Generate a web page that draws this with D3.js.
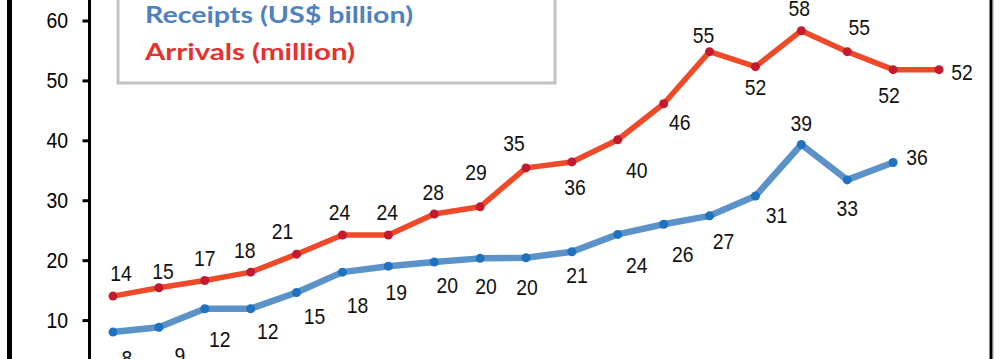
<!DOCTYPE html>
<html><head><meta charset="utf-8">
<script src="https://cdn.jsdelivr.net/npm/d3@7"></script>
<style>
html,body{margin:0;padding:0;background:#fff;overflow:hidden;}
svg{display:block;}
</style></head>
<body>
<svg id="chart" width="1000" height="359"></svg>
<script>
// ---- data (category labels are cropped out of view) ----
const years = ["1998","1999","2000","2001","2002","2003","2004","2005","2006","2007","2008","2009","2010","2011","2012","2013","2014","2015","2016"];
const arrivals = [14.0,15.4,16.6,18.0,21.0,24.2,24.2,27.7,28.9,35.4,36.4,40.1,46.1,54.8,52.3,58.3,54.8,51.8,51.8];
const receipts = [8.0,8.8,11.9,11.9,14.6,18.0,19.0,19.7,20.3,20.4,21.4,24.3,26.0,27.4,30.7,39.3,33.4,36.3];
const yTicks = [10,20,30,40,50,60];
const legendLabels = ["Receipts (US$ billion)","Arrivals (million)"];

// label placements (dx, dy from each point)
const arrivalsLabelOffset = [[8,-23],[4,-17],[0,-23],[-6,-22],[-14,-23],[-3,-23],[-1,-23],[-1,-22],[-4,-35],[-12,-25],[3,25],[19,30],[16,18],[-6,-17],[0,20],[-2,-23],[12,-25],[-4,25],[23,2]];
const receiptsLabelOffset = [[14,26],[21,28],[15,30],[17,22],[18,24],[15,33],[8,26],[13,23],[6,28],[1,29],[5,23],[19,31],[19,30],[14,25],[21,19],[0,-21],[0,28],[24,-5]];

const svg = d3.select("#chart");
const x = d3.scalePoint().domain(years).range([113, 939]);
const y = d3.scaleLinear().domain([0, 60]).range([380, 20.5]);

const numFont = "'Liberation Sans',Arial,sans-serif";
const squeeze = 0.88;

// frame
svg.append("line").attr("x1",9.5).attr("x2",9.5).attr("y1",-5).attr("y2",365).attr("stroke","#000").attr("stroke-width",5);
svg.append("line").attr("x1",991).attr("x2",991).attr("y1",-5).attr("y2",365).attr("stroke","#000").attr("stroke-width",3);
svg.append("line").attr("x1",993.5).attr("x2",993.5).attr("y1",-5).attr("y2",365).attr("stroke","#ccc").attr("stroke-width",1);

// y axis
const axis = svg.append("g").attr("transform","translate(89.5,0)")
  .call(d3.axisLeft(y).tickValues(yTicks).tickSize(7).tickSizeOuter(0).tickPadding(14));
axis.select(".domain").remove();
axis.selectAll(".tick line").attr("stroke","#000").attr("stroke-width",3);
axis.selectAll(".tick text").attr("fill","#000").style("font-family",numFont).style("font-size","22px")
  .attr("x",0).attr("transform",`translate(-21.5,0) scale(${squeeze},1)`);
axis.append("line").attr("x1",0).attr("x2",0).attr("y1",-5).attr("y2",400).attr("stroke","#000").attr("stroke-width",3);

// legend
const lg = svg.append("g");
lg.append("rect").attr("x",118).attr("y",-20).attr("width",437).attr("height",103)
  .attr("fill","#fff").attr("stroke","#bfc3c3").attr("stroke-width",3);
const legendColors = ["#4f81bd","#e8302e"];
lg.selectAll("text.leg").data(legendLabels).join("text").attr("class","leg")
  .attr("x",145).attr("y",(d,i)=> i===0 ? 23 : 60)
  .attr("fill",(d,i)=>legendColors[i])
  .attr("textLength",(d,i)=> i===0 ? 268 : 210).attr("lengthAdjust","spacingAndGlyphs")
  .style("font-family","Lato,'Open Sans',sans-serif").style("font-weight","bold").style("font-size","23px")
  .text(d=>d);

function series(values, lineColor, dotColor, width, offsets){
  const g = svg.append("g");
  const line = d3.line().x((d,i)=>x(years[i])).y(d=>y(d));
  g.append("path").datum(values).attr("d",line).attr("fill","none")
    .attr("stroke",lineColor).attr("stroke-width",width).attr("stroke-linejoin","round").attr("stroke-linecap","round");
  g.selectAll("circle").data(values).join("circle")
    .attr("cx",(d,i)=>x(years[i])).attr("cy",d=>y(d)).attr("r",4.5).attr("fill",dotColor);
  g.selectAll("text").data(values).join("text")
    .attr("transform",(d,i)=>`translate(${x(years[i])+offsets[i][0]},${y(d)+offsets[i][1]}) scale(${squeeze},1)`)
    .attr("text-anchor","middle").attr("dominant-baseline","central")
    .style("font-family",numFont).style("font-size","22px").attr("fill","#111")
    .text(d=>Math.round(d));
}
series(receipts, "#5b93c9", "#1f72bf", 6.5, receiptsLabelOffset);
series(arrivals, "#ee4a2a", "#c41a30", 5.5, arrivalsLabelOffset);
</script>
</body></html>
